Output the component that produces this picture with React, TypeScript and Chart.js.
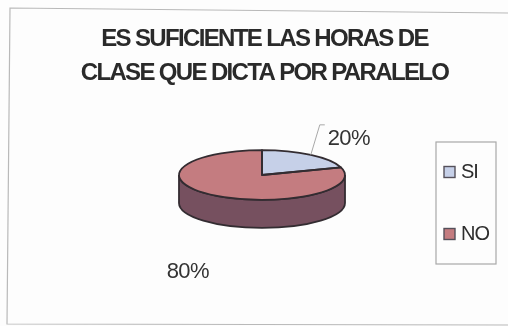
import React, { useEffect, useRef } from "react";
import { Chart, registerables } from "chart.js";

Chart.register(...registerables);

const titleLines = ["ES SUFICIENTE LAS HORAS DE", "CLASE QUE DICTA POR PARALELO"];
const categories = ["SI", "NO"];
const shares = [20, 80];
const sliceColors = ["#c6d0e8", "#c47c80"];
const wallColors = ["#8d93aa", "#76505f"];

const OUTLINE = "#332c31";
const PIE_CENTER = { x: 262, y: 175 };
const TILT = 0.3;
const PIE_RADIUS = 83;
const PIE_DEPTH = 28;
const SANS = "'Liberation Sans', Arial, sans-serif";

type Arc = { x: number; y: number; startAngle: number; endAngle: number; outerRadius: number };

// Flattens the round pie into an ellipse while the library paints its slices.
const tiltPlugin = {
  id: "tilt",
  beforeDraw(chart: any) {
    const { ctx, width, height } = chart;
    ctx.save();
    ctx.fillStyle = "#fdfdfd";
    ctx.fillRect(0, 0, width, height);
    ctx.strokeStyle = "#b9b9b9";
    ctx.lineWidth = 1.2;
    ctx.beginPath();
    ctx.moveTo(508, 13);
    ctx.lineTo(10, 8);
    ctx.lineTo(7, 324);
    ctx.lineTo(508, 325);
    ctx.stroke();
    ctx.restore();
    ctx.letterSpacing = "-1.65px";
  },
  beforeDatasetsDraw(chart: any) {
    const { ctx } = chart;
    const arcs: Arc[] = chart.getDatasetMeta(0).data;
    const { x: ax, y: ay, outerRadius } = arcs[0];
    const ry = outerRadius * TILT;

    // Side wall: only the part of each slice that faces the viewer.
    arcs.forEach((arc, i) => {
      const from = Math.max(arc.startAngle, 0);
      const to = Math.min(arc.endAngle, Math.PI);
      if (to <= from) return;
      ctx.save();
      ctx.beginPath();
      ctx.ellipse(PIE_CENTER.x, PIE_CENTER.y, outerRadius, ry, 0, from, to);
      ctx.ellipse(PIE_CENTER.x, PIE_CENTER.y + PIE_DEPTH, outerRadius, ry, 0, to, from, true);
      ctx.closePath();
      ctx.fillStyle = wallColors[i];
      ctx.fill();
      ctx.strokeStyle = OUTLINE;
      ctx.lineWidth = 1.8;
      ctx.stroke();
      ctx.restore();
    });

    ctx.save();
    ctx.translate(PIE_CENTER.x, PIE_CENTER.y);
    ctx.scale(1, TILT);
    ctx.translate(-ax, -ay);
  },
  afterDatasetsDraw(chart: any) {
    const { ctx } = chart;
    ctx.restore();
    const arcs: Arc[] = chart.getDatasetMeta(0).data;
    const total = shares.reduce((a, b) => a + b, 0);

    // Slice outlines are stroked unscaled so the line keeps an even weight.
    ctx.save();
    ctx.strokeStyle = OUTLINE;
    ctx.lineWidth = 1.8;
    ctx.lineJoin = "round";
    arcs.forEach((arc) => {
      const ry = arc.outerRadius * TILT;
      ctx.beginPath();
      ctx.moveTo(PIE_CENTER.x, PIE_CENTER.y);
      ctx.ellipse(PIE_CENTER.x, PIE_CENTER.y, arc.outerRadius, ry, 0, arc.startAngle, arc.endAngle);
      ctx.closePath();
      ctx.stroke();
    });
    ctx.restore();

    // Leader line from the small slice to its percentage.
    const first = arcs[0];
    const mid = (first.startAngle + first.endAngle) / 2;
    const edgeX = PIE_CENTER.x + first.outerRadius * Math.cos(mid);
    const edgeY = PIE_CENTER.y + first.outerRadius * TILT * Math.sin(mid);
    ctx.save();
    ctx.strokeStyle = "#a9a9a9";
    ctx.lineWidth = 1;
    ctx.beginPath();
    ctx.moveTo(edgeX, edgeY);
    ctx.lineTo(edgeX + 9, edgeY - 30);
    ctx.lineTo(edgeX + 14, edgeY - 30);
    ctx.stroke();
    ctx.restore();

    // Percentage labels, pushed outward along each slice's mid angle.
    const reach = [
      { x: 1.78, y: 1.83, drop: 1 },
      { x: 1.52, y: 1.52, drop: 66 },
    ];
    ctx.save();
    ctx.letterSpacing = "-0.6px";
    ctx.font = `22px ${SANS}`;
    ctx.fillStyle = "#333333";
    ctx.textAlign = "center";
    ctx.textBaseline = "middle";
    arcs.forEach((arc, i) => {
      const m = (arc.startAngle + arc.endAngle) / 2;
      const lx = PIE_CENTER.x + arc.outerRadius * reach[i].x * Math.cos(m);
      const ly = PIE_CENTER.y + arc.outerRadius * TILT * reach[i].y * Math.sin(m) + reach[i].drop;
      ctx.fillText(`${Math.round((shares[i] / total) * 100)}%`, lx, ly);
    });
    ctx.restore();

    // Legend panel.
    ctx.save();
    ctx.strokeStyle = "#a8a8a8";
    ctx.lineWidth = 1.2;
    ctx.strokeRect(436, 142, 60, 122);
    ctx.letterSpacing = "-1px";
    ctx.font = `20px ${SANS}`;
    ctx.textAlign = "left";
    ctx.textBaseline = "middle";
    categories.forEach((name, i) => {
      const rowY = 172 + i * 62;
      ctx.fillStyle = sliceColors[i];
      ctx.fillRect(444, rowY - 5.5, 11, 11);
      ctx.strokeStyle = "#55505a";
      ctx.lineWidth = 1.4;
      ctx.strokeRect(444, rowY - 5.5, 11, 11);
      ctx.fillStyle = "#2e2e2e";
      ctx.fillText(name, 461, rowY);
    });
    ctx.restore();
  },
};

export default function App() {
  const canvasRef = useRef<HTMLCanvasElement | null>(null);

  useEffect(() => {
    if (!canvasRef.current) return;
    const chart = new Chart(canvasRef.current, {
      type: "pie",
      data: {
        labels: categories,
        datasets: [
          {
            data: shares,
            backgroundColor: sliceColors,
            borderWidth: 0,
            radius: PIE_RADIUS,
          },
        ],
      },
      options: {
        responsive: false,
        animation: false,
        layout: { padding: { left: 21 } },
        plugins: {
          legend: { display: false },
          tooltip: { enabled: false },
          title: {
            display: true,
            text: titleLines,
            color: "#2a2a2a",
            font: { family: SANS, size: 24, weight: "bold", lineHeight: 1.39 },
            padding: { top: 23, bottom: 10 },
          },
        },
      },
      plugins: [tiltPlugin],
    });
    return () => chart.destroy();
  }, []);

  return (
    <div style={{ position: "absolute", left: 0, top: 0, width: 508, height: 326 }}>
      <canvas ref={canvasRef} width={508} height={326} style={{ display: "block" }} />
    </div>
  );
}
